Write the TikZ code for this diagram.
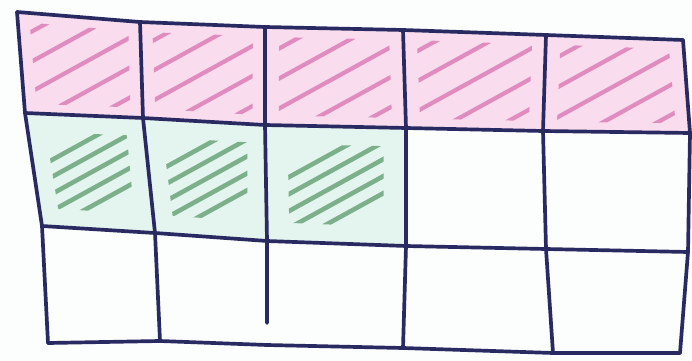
\documentclass[tikz,border=0pt]{standalone}
\usepackage{tikz}
\usepackage{xcolor}
\usetikzlibrary{calc}
\definecolor{paper}{HTML}{FCFDFD}
\definecolor{ink}{HTML}{2A2A62}
\definecolor{pinkbg}{HTML}{F9DDEE}
\definecolor{pinkhatch}{HTML}{DC78B4}
\definecolor{greenbg}{HTML}{E4F4EE}
\definecolor{greenhatch}{HTML}{62A072}
\tikzset{
  gridline/.style={draw=ink,line width=2.1pt,line cap=round,line join=round},
  pinkhatchline/.style={draw=pinkhatch,line width=2.4pt,line cap=round,opacity=0.8},
  greenhatchline/.style={draw=greenhatch,line width=2.6pt,line cap=round,opacity=0.8}
}
% one shaded cell: #1 row, #2 col, #3 next row, #4 next col, #5 colour, #6 inset, #7 gap
\newcommand{\hatchcell}[7]{%
  \fill[#5bg] (g#1#2) -- (g#1#4) -- (g#3#4) -- (g#3#2) -- cycle;
  \begin{scope}
    \clip ($(g#1#2)!#6!(g#3#4)$) -- ($(g#1#4)!#6!(g#3#2)$)
       -- ($(g#3#4)!#6!(g#1#2)$) -- ($(g#3#2)!#6!(g#1#4)$) -- cycle;
    \foreach \k in {-2,...,2}
      \draw[#5hatchline] ($(g#1#2)!0.5!(g#3#4) + (-80,44+\k*#7)$) -- ++(160,-88);
  \end{scope}}

\begin{document}
\begin{tikzpicture}[x=0.02cm,y=-0.02cm]
    \path[use as bounding box,fill=paper] (0,0) rectangle (692,361);
    % grid corners, row by row
    \foreach \x/\y [count=\c from 0] in {17/12,140/22,265/27,403/30,546/35,683/40}
      \coordinate (g0\c) at (\x,\y);
    \foreach \x/\y [count=\c from 0] in {25/113,143/118,265/125,406/128,543/131,690/133}
      \coordinate (g1\c) at (\x,\y);
    \foreach \x/\y [count=\c from 0] in {42/226,155/233,267/241,406/246,546/249,688/252}
      \coordinate (g2\c) at (\x,\y);
    \foreach \x/\y [count=\c from 0] in {48/343,160/341,267/345,403/348,553/353,680/353}
      \coordinate (g3\c) at (\x,\y);
    \coordinate (v2end) at (267,323);

    % shaded cells
    \foreach \c/\cn in {0/1,1/2,2/3,3/4,4/5}
      \hatchcell{0}{\c}{1}{\cn}{pink}{0.1}{30};
    \foreach \c/\cn in {0/1,1/2,2/3}
      \hatchcell{1}{\c}{2}{\cn}{green}{0.16}{17};

    % ruled lines
    \foreach \r in {0,...,3}
      \draw[gridline] (g\r0) -- (g\r1) -- (g\r2) -- (g\r3) -- (g\r4) -- (g\r5);
    \foreach \c in {0,1,3,4,5}
      \draw[gridline] (g0\c) -- (g1\c) -- (g2\c) -- (g3\c);
    \draw[gridline] (g02) -- (g12) -- (g22) -- (v2end);
  \end{tikzpicture}
\end{document}
